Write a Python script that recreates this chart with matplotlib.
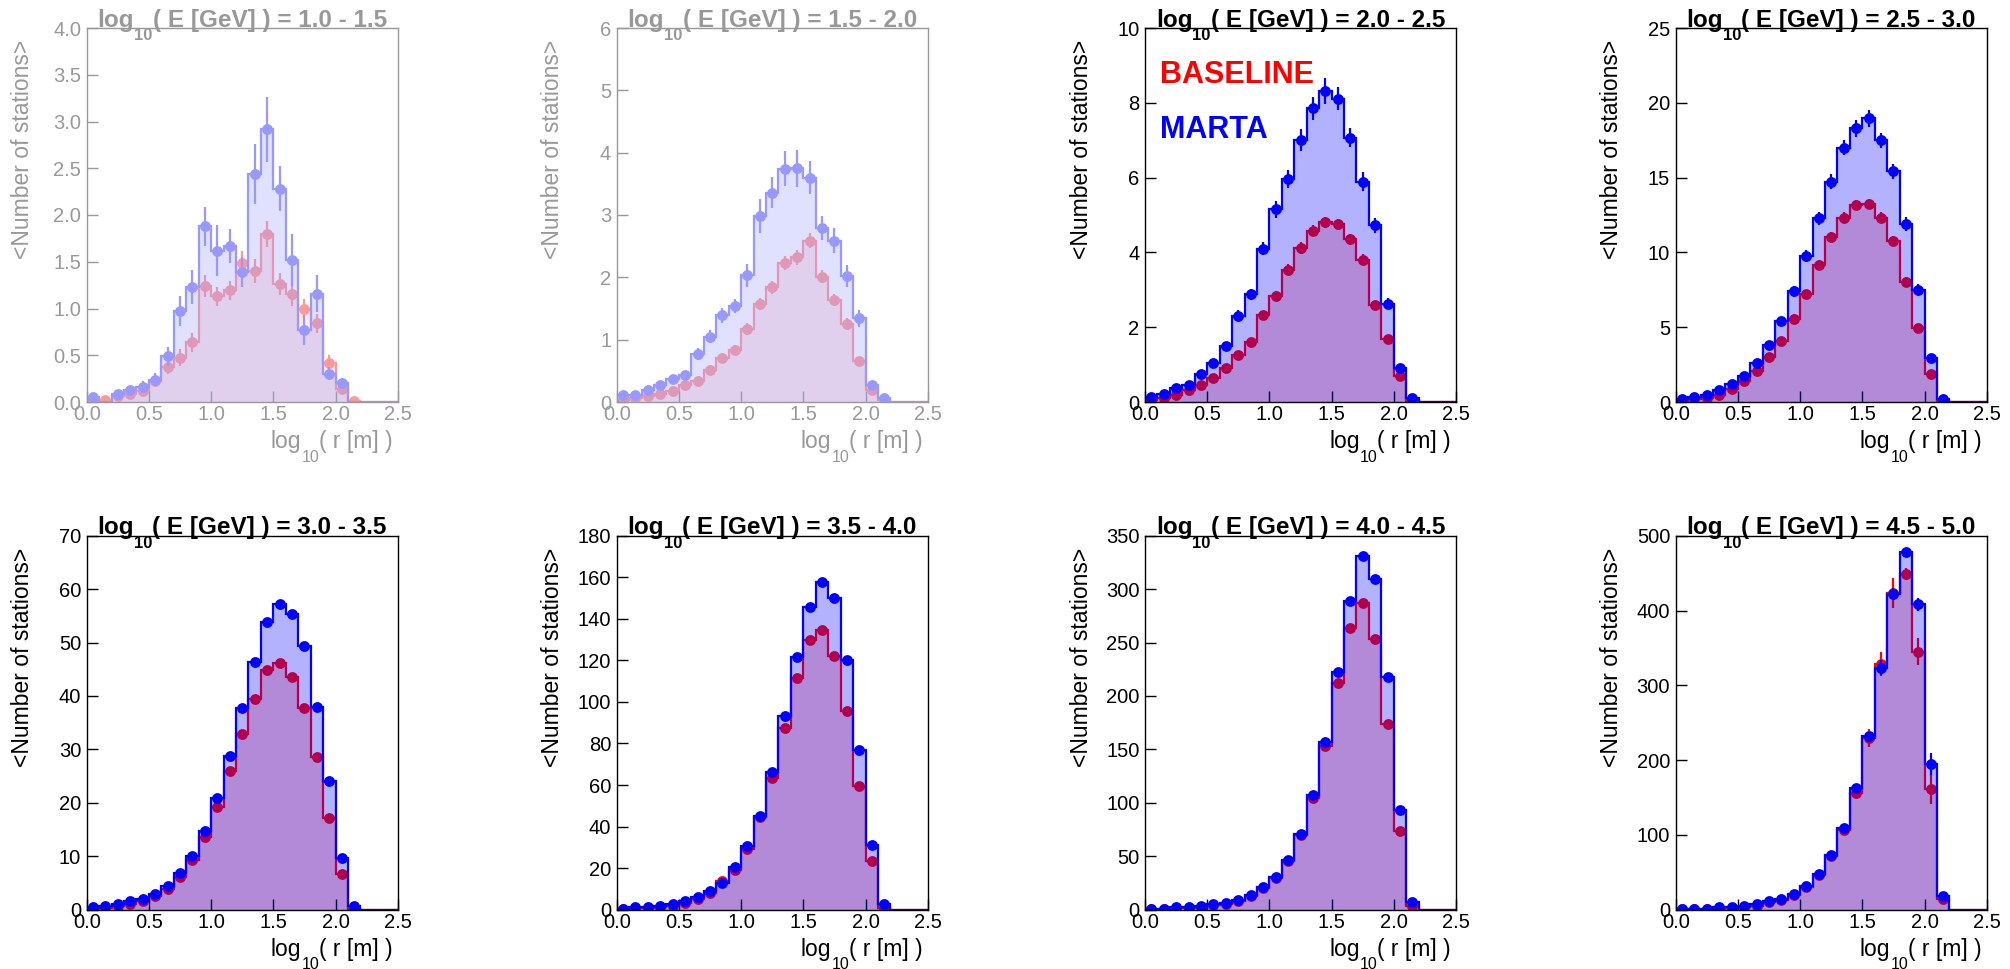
import numpy as np
import matplotlib.pyplot as plt
from matplotlib.patches import Rectangle
from matplotlib.transforms import ScaledTranslation

plt.rcParams['font.family'] = ['Liberation Sans', 'DejaVu Sans']

# log10(r/m) binning: 25 bins of 0.1, only the first 22 are populated
r_edges = np.linspace(0.0, 2.5, 26)

energy_ranges = ["1.0 - 1.5", "1.5 - 2.0", "2.0 - 2.5", "2.5 - 3.0",
                 "3.0 - 3.5", "3.5 - 4.0", "4.0 - 4.5", "4.5 - 5.0"]
y_max = [4, 6, 10, 25, 70, 180, 350, 500]
y_step = [0.5, 1, 2, 5, 10, 20, 50, 100]
y_fmt = ["{:.1f}", "{:.0f}", "{:.0f}", "{:.0f}", "{:.0f}", "{:.0f}", "{:.0f}", "{:.0f}"]

# <number of stations> per radial bin, BASELINE and MARTA
baseline_1 = [0.02, 0.02, 0.06, 0.09, 0.12, 0.22, 0.375, 0.475, 0.64, 1.24, 1.13,
              1.195, 1.49, 1.40, 1.80, 1.26, 1.16, 1.00, 0.84, 0.42, 0.14, 0.01]
marta_1 = [0.05, 0.0, 0.09, 0.125, 0.16, 0.24, 0.49, 0.975, 1.23, 1.88, 1.62,
           1.67, 1.39, 2.44, 2.915, 2.28, 1.52, 0.77, 1.16, 0.30, 0.20, 0.0]
baseline_err_1 = [0.02, 0.02, 0.03, 0.04, 0.05, 0.06, 0.08, 0.09, 0.10, 0.12, 0.10,
                  0.10, 0.12, 0.13, 0.14, 0.12, 0.13, 0.10, 0.10, 0.08, 0.05, 0.01]
marta_err_1 = [0.03, 0.0, 0.04, 0.05, 0.06, 0.07, 0.10, 0.16, 0.18, 0.21, 0.27,
               0.18, 0.16, 0.32, 0.35, 0.24, 0.28, 0.16, 0.20, 0.07, 0.06, 0.0]

baseline_2 = [0.04, 0.07, 0.09, 0.13, 0.18, 0.27, 0.34, 0.52, 0.70, 0.84, 1.17,
              1.57, 1.84, 2.23, 2.32, 2.59, 2.01, 1.64, 1.25, 0.65, 0.19, 0.03]
marta_2 = [0.12, 0.12, 0.20, 0.27, 0.37, 0.43, 0.77, 1.05, 1.39, 1.54, 2.03,
           2.98, 3.36, 3.74, 3.75, 3.60, 2.79, 2.59, 2.02, 1.34, 0.27, 0.06]
baseline_err_2 = [0.02, 0.03, 0.03, 0.04, 0.05, 0.06, 0.06, 0.07, 0.08, 0.08, 0.09,
                  0.10, 0.10, 0.12, 0.12, 0.12, 0.10, 0.10, 0.09, 0.07, 0.04, 0.02]
marta_err_2 = [0.04, 0.04, 0.05, 0.06, 0.07, 0.07, 0.09, 0.10, 0.12, 0.11, 0.19,
               0.27, 0.25, 0.28, 0.30, 0.27, 0.19, 0.20, 0.18, 0.13, 0.06, 0.03]

baseline_3 = [0.06, 0.12, 0.18, 0.31, 0.45, 0.64, 0.91, 1.25, 1.61, 2.32, 2.84,
              3.54, 4.12, 4.58, 4.80, 4.75, 4.35, 3.81, 2.59, 1.69, 0.69, 0.04]
marta_3 = [0.13, 0.22, 0.37, 0.45, 0.76, 1.05, 1.49, 2.31, 2.88, 4.10, 5.15,
           5.96, 7.00, 7.85, 8.32, 8.11, 7.07, 5.89, 4.73, 2.63, 0.91, 0.11]
baseline_err_3 = [0.03, 0.04, 0.05, 0.06, 0.07, 0.08, 0.09, 0.10, 0.11, 0.12, 0.13,
                  0.14, 0.15, 0.15, 0.15, 0.15, 0.15, 0.14, 0.12, 0.10, 0.07, 0.02]
marta_err_3 = [0.05, 0.06, 0.07, 0.08, 0.10, 0.10, 0.12, 0.15, 0.15, 0.17, 0.22,
               0.25, 0.30, 0.30, 0.35, 0.30, 0.25, 0.25, 0.20, 0.15, 0.10, 0.04]

baseline_4 = [0.10, 0.18, 0.29, 0.49, 0.89, 1.40, 2.07, 3.01, 4.08, 5.58, 7.20,
              9.19, 11.0, 12.33, 13.16, 13.22, 12.33, 10.77, 8.03, 4.97, 1.90, 0.07]
marta_4 = [0.22, 0.33, 0.49, 0.78, 1.18, 1.72, 2.61, 3.79, 5.40, 7.40, 9.77,
           12.27, 14.72, 16.99, 18.29, 18.96, 17.51, 15.43, 11.89, 7.52, 2.94, 0.22]
baseline_err_4 = [0.05, 0.07, 0.08, 0.10, 0.13, 0.15, 0.20, 0.22, 0.25, 0.28, 0.30,
                  0.33, 0.35, 0.35, 0.35, 0.35, 0.35, 0.33, 0.30, 0.25, 0.15, 0.03]
marta_err_4 = [0.10, 0.10, 0.12, 0.15, 0.18, 0.20, 0.25, 0.28, 0.30, 0.35, 0.40,
               0.45, 0.50, 0.50, 0.55, 0.55, 0.50, 0.50, 0.45, 0.35, 0.20, 0.05]

baseline_5 = [0.2, 0.4, 0.6, 1.1, 1.7, 2.6, 3.9, 6.2, 9.35, 13.7, 19.3,
              26.0, 32.9, 39.5, 44.9, 46.1, 43.6, 37.7, 28.5, 17.1, 6.67, 0.12]
marta_5 = [0.5, 0.75, 1.06, 1.56, 2.0, 2.93, 4.36, 6.86, 10.1, 14.65, 20.9,
           28.7, 37.7, 46.4, 53.9, 57.2, 55.4, 49.3, 38.0, 24.0, 9.66, 0.75]

baseline_6 = [0.2, 0.6, 0.6, 1.3, 1.9, 3.2, 5.1, 8.0, 13.9, 19.2, 29.3,
              44.6, 63.6, 87.4, 111.4, 129.8, 134.6, 122.3, 95.4, 59.3, 23.2, 0.8]
marta_6 = [0.5, 1.3, 1.1, 1.9, 2.7, 4.0, 5.9, 8.8, 12.8, 20.4, 30.5,
           45.2, 66.5, 93.0, 121.8, 145.9, 157.6, 150.2, 120.2, 76.9, 31.3, 2.7]

baseline_7 = [0.3, 0.6, 1.3, 1.5, 2.5, 4.0, 5.5, 7.8, 12.5, 20.2, 29.6,
              45.8, 70.1, 104.4, 153.6, 211.9, 263.9, 286.7, 253.3, 173.9, 73.2, 3.1]
marta_7 = [1.0, 1.0, 2.2, 2.2, 3.7, 5.3, 6.2, 8.7, 13.4, 21.2, 30.5,
           46.7, 70.7, 107.5, 156.7, 222.2, 289.2, 330.9, 309.1, 218.1, 92.9, 6.9]

baseline_8 = [0.5, 0.5, 0.8, 1.5, 2.5, 3.5, 4.5, 10.0, 13.0, 20.0, 30.0,
              46.0, 71.2, 106.9, 155.8, 229.3, 328.1, 424.0, 448.3, 345.1, 161.2, 14.2]
marta_8 = [1.3, 1.3, 1.3, 3.6, 3.6, 5.3, 8.0, 11.1, 14.2, 21.4, 31.2,
           47.6, 73.5, 109.1, 162.5, 232.4, 323.7, 422.1, 477.7, 408.3, 194.6, 17.8]
baseline_err_8 = [0.5, 0.5, 0.6, 0.8, 1.0, 1.2, 1.5, 2.0, 2.5, 3.0, 3.5,
                  4.0, 5.0, 6.0, 7.0, 12.0, 16.0, 20.0, 8.0, 18.0, 20.0, 6.0]
marta_err_8 = [0.5, 0.5, 0.5, 0.8, 0.8, 1.0, 1.2, 1.5, 2.0, 2.5, 3.0,
               3.5, 4.0, 5.0, 5.0, 6.0, 10.0, 8.0, 5.0, 9.0, 15.0, 5.0]

baseline = [baseline_1, baseline_2, baseline_3, baseline_4,
            baseline_5, baseline_6, baseline_7, baseline_8]
marta = [marta_1, marta_2, marta_3, marta_4, marta_5, marta_6, marta_7, marta_8]
baseline_err = [baseline_err_1, baseline_err_2, baseline_err_3, baseline_err_4,
                None, None, None, baseline_err_8]
marta_err = [marta_err_1, marta_err_2, marta_err_3, marta_err_4,
             None, None, None, marta_err_8]

RED = (1.0, 0.0, 0.0)
BLUE = (0.0, 0.0, 1.0)

W, H = 2010, 969
DPI = 100
fig = plt.figure(figsize=(W / DPI, H / DPI), dpi=DPI)
renderer = fig.canvas.get_renderer()

col_left = [86.7, 616.7, 1145.0, 1675.7]
row_top = [28.0, 535.7]
ax_w, ax_h = 311.0, 374.0


def sub_text(ax, x, y, parts, ha='left', **kw):
    """Text made of pieces, each (string, fontsize, shift down in px),
    laid out left to right like a ROOT TLatex subscript."""
    items = []
    for s, size, down in parts:
        t = ax.text(x, y, s, fontsize=size, transform=ax.transAxes,
                    ha='left', va='baseline', **kw)
        items.append((t, down, t.get_window_extent(renderer).width))
    total = sum(w for _, _, w in items)
    pos = {'left': 0.0, 'center': -total / 2, 'right': -total}[ha]
    for t, down, w in items:
        t.set_transform(ax.transAxes + ScaledTranslation(pos / DPI, -down / DPI,
                                                         fig.dpi_scale_trans))
        pos += w


def draw_hist(ax, vals, errs, color, fill_alpha, z):
    n = len(r_edges) - 1
    full = np.pad(np.asarray(vals, float), (0, n - len(vals)))
    centers = 0.5 * (r_edges[:-1] + r_edges[1:])
    ax.stairs(full, r_edges, fill=True, color=color, alpha=fill_alpha,
              linewidth=0, zorder=z)
    ax.stairs(full, r_edges, fill=False, color=color, linewidth=1.6,
              zorder=z + 0.1)
    v = np.asarray(vals, float)
    x = centers[:len(v)]
    keep = v > 0
    if errs is not None:
        e = np.asarray(errs, float)
        ax.errorbar(x[keep], v[keep], yerr=e[keep], fmt='none', ecolor=color,
                    elinewidth=1.6, capsize=0, zorder=z + 0.2)
    ax.plot(x[keep], v[keep], 'o', color=color, markersize=7.8,
            markeredgewidth=0, zorder=z + 0.3)


for i in range(8):
    r, c = divmod(i, 4)
    left = col_left[c] / W
    bottom = 1 - (row_top[r] + ax_h) / H
    ax = fig.add_axes([left, bottom, ax_w / W, ax_h / H])

    draw_hist(ax, baseline[i], baseline_err[i], RED, 0.22, 1.0)
    draw_hist(ax, marta[i], marta_err[i], BLUE, 0.30, 2.0)

    ax.set_xlim(0, 2.5)
    ax.set_ylim(0, y_max[i])
    xt = np.arange(0, 2.51, 0.5)
    ax.set_xticks(xt)
    ax.set_xticklabels(["{:.1f}".format(t) for t in xt])
    yt = np.arange(0, y_max[i] + 1e-9, y_step[i])
    ax.set_yticks(yt)
    ax.set_yticklabels([y_fmt[i].format(t) for t in yt])
    ax.tick_params(direction='in', length=8, width=1.0, labelsize=14.5,
                   top=False, right=False)
    ax.tick_params(axis='y', pad=4.0)
    ax.tick_params(axis='x', pad=2.5)
    for s in ax.spines.values():
        s.set_linewidth(1.0)

    sub_text(ax, 0.5, 1.0 + 1.3 / ax_h,
             [("log", 17.5, 0), ("10", 12.0, 13.5),
              ("( E [GeV] ) = " + energy_ranges[i], 17.5, 0)],
             ha='center', fontweight='bold', zorder=5)
    ax.text(-0.205, 0.968, "<Number of stations>", transform=ax.transAxes,
            rotation=90, ha='center', va='top', fontsize=16.5)
    sub_text(ax, 0.984, -46.0 / ax_h,
             [("log", 16.5, 0), ("10", 11.5, 13.5), ("( r [m] )", 16.5, 0)],
             ha='right')

    if i == 2:
        ax.text(0.048, 0.853, "BASELINE", color=RED, transform=ax.transAxes,
                fontsize=22, fontweight='bold', va='baseline')
        ax.text(0.048, 0.706, "MARTA", color=BLUE, transform=ax.transAxes,
                fontsize=22, fontweight='bold', va='baseline')

# the two lowest-energy ranges are shown greyed out
fig.add_artist(Rectangle((0, 1 - 475 / H), 1000 / W, 475 / H,
                         transform=fig.transFigure, facecolor='white',
                         edgecolor='none', alpha=0.6, zorder=10))

fig.savefig("out.png", dpi=DPI)
